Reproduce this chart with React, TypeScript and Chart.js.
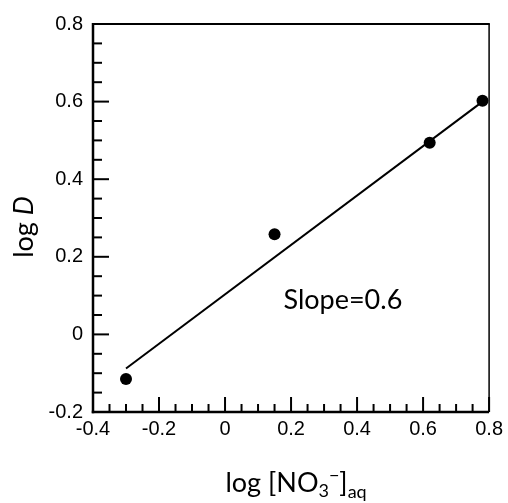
import React, { useEffect, useRef } from "react";
import { Chart, registerables } from "chart.js";

Chart.register(...registerables);

// ---- data ----
const X_DATA = [-0.3, 0.15, 0.62, 0.78];
const Y_DATA = [-0.115, 0.258, 0.494, 0.602];
const FIT_X = [-0.3, 0.78];
const FIT_Y = [-0.088, 0.6];

const X_MIN = -0.4;
const X_MAX = 0.8;
const Y_MIN = -0.2;
const Y_MAX = 0.8;
const X_TICKS = [-0.4, -0.2, 0, 0.2, 0.4, 0.6, 0.8];
const X_TICK_LABELS = ["-0.4", "-0.2", "0", "0.2", "0.4", "0.6", "0.8"];
const Y_TICKS = [-0.2, 0, 0.2, 0.4, 0.6, 0.8];
const Y_TICK_LABELS = ["-0.2", "0", "0.2", "0.4", "0.6", "0.8"];
const MINOR_STEP = 0.05;
const MAJOR_STEP = 0.2;

const ANNOTATION = "Slope=0.6";
const ANNOT_X = 0.177;
const ANNOT_Y = 0.065;

const TITLE_FONT = "Lato, 'Open Sans', sans-serif";
const TICK_FONT = "'Liberation Sans', Arial, sans-serif";

const W = 508;
const H = 503;

const decorPlugin = {
  id: "decor",
  afterDraw(chart: any) {
    const { ctx, chartArea: a, scales } = chart;
    const x = scales.x;
    const y = scales.y;
    ctx.save();
    ctx.strokeStyle = "#000";
    ctx.fillStyle = "#000";
    ctx.lineCap = "butt";

    const line = (x1: number, y1: number, x2: number, y2: number, w: number) => {
      ctx.lineWidth = w;
      ctx.beginPath();
      ctx.moveTo(x1, y1);
      ctx.lineTo(x2, y2);
      ctx.stroke();
    };
    const isMajor = (v: number) => Math.abs(v / MAJOR_STEP - Math.round(v / MAJOR_STEP)) < 1e-6;

    // x ticks (inward)
    const nx = Math.round((X_MAX - X_MIN) / MINOR_STEP);
    for (let i = 0; i <= nx; i++) {
      const v = X_MIN + i * MINOR_STEP;
      const px = x.getPixelForValue(v);
      const len = isMajor(v) ? 15 : 8;
      line(px, a.bottom, px, a.bottom - len, 2);
    }
    // y ticks (inward)
    const ny = Math.round((Y_MAX - Y_MIN) / MINOR_STEP);
    for (let i = 0; i <= ny; i++) {
      const v = Y_MIN + i * MINOR_STEP;
      const py = y.getPixelForValue(v);
      const len = isMajor(v) ? 16 : 9;
      line(a.left, py, a.left + len, py, 2);
    }

    // frame
    line(a.left, a.top - 1, a.left, a.bottom + 1.25, 2.5);
    line(a.left - 1.25, a.bottom, a.right, a.bottom, 2.5);
    line(a.left, a.top, a.right + 0.75, a.top, 2);
    line(a.right, a.top, a.right, a.bottom, 1.5);

    // annotation
    ctx.font = `27px ${TITLE_FONT}`;
    ctx.textAlign = "left";
    ctx.textBaseline = "alphabetic";
    ctx.fillText(ANNOTATION, x.getPixelForValue(ANNOT_X), y.getPixelForValue(ANNOT_Y));

    // y title: "log D"
    ctx.save();
    const ycx = 33;
    const ycy = (a.top + a.bottom) / 2 + 9;
    ctx.translate(ycx, ycy);
    ctx.rotate(-Math.PI / 2);
    ctx.font = `27px ${TITLE_FONT}`;
    const p1 = "log ";
    const w1 = ctx.measureText(p1).width;
    ctx.font = `italic 27px ${TITLE_FONT}`;
    const w2 = ctx.measureText("D").width;
    let sx = -(w1 + w2) / 2;
    ctx.font = `27px ${TITLE_FONT}`;
    ctx.fillText(p1, sx, 0);
    ctx.font = `italic 27px ${TITLE_FONT}`;
    ctx.fillText("D", sx + w1, 0);
    ctx.restore();

    // x title: log [NO3−]aq
    const base = 492;
    const pieces: [string, number, number][] = [
      ["log [NO", 27, 0],
      ["3", 18, 5],
      ["\u2212", 18, -11],
      ["]", 27, 0],
      ["aq", 18, 6],
    ];
    let total = 0;
    const widths = pieces.map(([t, s]) => {
      ctx.font = `${s}px ${TITLE_FONT}`;
      const w = ctx.measureText(t).width;
      total += w;
      return w;
    });
    let cx = (a.left + a.right) / 2 + 5 - total / 2;
    pieces.forEach(([t, s, dy], i) => {
      ctx.font = `${s}px ${TITLE_FONT}`;
      ctx.fillText(t, cx, base + dy);
      cx += widths[i];
    });

    ctx.restore();
  },
};

export default function App() {
  const ref = useRef<HTMLCanvasElement | null>(null);

  useEffect(() => {
    if (!ref.current) return;
    const chart = new Chart(ref.current, {
      type: "scatter",
      data: {
        datasets: [
          {
            data: FIT_X.map((v, i) => ({ x: v, y: FIT_Y[i] })),
            showLine: true,
            borderColor: "#000",
            borderWidth: 2,
            pointRadius: 0,
            order: 2,
          },
          {
            data: X_DATA.map((v, i) => ({ x: v, y: Y_DATA[i] })),
            showLine: false,
            backgroundColor: "#000",
            borderColor: "#000",
            pointRadius: 6,
            pointBorderWidth: 0,
            order: 1,
          },
        ],
      },
      options: {
        responsive: false,
        animation: false,
        devicePixelRatio: 1,
        layout: { padding: { left: 0, right: 18, top: 24, bottom: 0 } },
        plugins: { legend: { display: false }, tooltip: { enabled: false }, title: { display: false } },
        scales: {
          x: {
            type: "linear",
            min: X_MIN,
            max: X_MAX,
            grid: { display: false, drawTicks: false },
            border: { display: false },
            afterBuildTicks: (s: any) => {
              s.ticks = X_TICKS.map((v) => ({ value: v }));
            },
            afterFit: (s: any) => {
              s.height = 91;
            },
            ticks: {
              autoSkip: false,
              maxRotation: 0,
              padding: 5,
              color: "#000",
              font: { family: TICK_FONT, size: 20 },
              callback: (_v: any, i: number) => X_TICK_LABELS[i],
            },
          },
          y: {
            type: "linear",
            min: Y_MIN,
            max: Y_MAX,
            grid: { display: false, drawTicks: false },
            border: { display: false },
            afterBuildTicks: (s: any) => {
              s.ticks = Y_TICKS.map((v) => ({ value: v }));
            },
            afterFit: (s: any) => {
              s.width = 93;
            },
            ticks: {
              autoSkip: false,
              padding: 10,
              color: "#000",
              font: { family: TICK_FONT, size: 20 },
              callback: (_v: any, i: number) => Y_TICK_LABELS[i],
            },
          },
        },
      },
      plugins: [decorPlugin],
    });
    return () => chart.destroy();
  }, []);

  return (
    <div style={{ position: "absolute", left: 0, top: 0, width: W, height: H, background: "#fff" }}>
      <canvas ref={ref} width={W} height={H} style={{ display: "block", width: W, height: H }} />
    </div>
  );
}
